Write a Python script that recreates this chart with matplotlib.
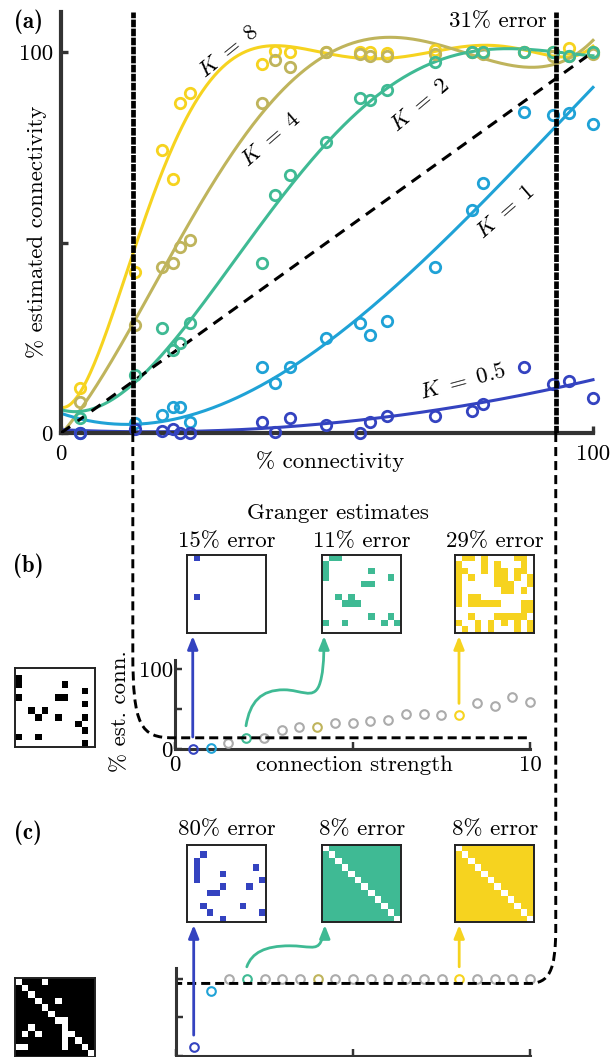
import numpy as np
import matplotlib
matplotlib.use("Agg")
import matplotlib.pyplot as plt
from matplotlib.colors import ListedColormap
from matplotlib.patches import FancyArrowPatch, PathPatch
from matplotlib.path import Path

W, H = 611, 1057

plt.rcParams["font.family"] = "cmr10"
plt.rcParams["mathtext.fontset"] = "cm"
plt.rcParams["axes.unicode_minus"] = False
plt.rcParams["axes.formatter.use_mathtext"] = True
plt.rcParams["lines.scale_dashes"] = False

DARKBLUE = "#3443c0"
LIGHTBLUE = "#1fa2d6"
GREEN = "#3fba94"
OLIVE = "#bfb45c"
YELLOW = "#f6d31f"
GRAY = "#ababab"
AXCOL = "#333333"
FS = 16.5

# ---- panel (a): % connectivity vs % estimated connectivity ----
conn = [3.6, 13.9, 18.9, 21.1, 22.4, 24.2, 37.7, 40.2, 43.0, 49.9,
        56.2, 58.1, 61.3, 70.3, 77.2, 79.4, 87.0, 92.5, 95.5, 100.0]
est_k8 = [11.7, 42.3, 74.3, 66.6, 86.5, 89.2, 96.9, 100.3, 100.0, 100.0,
          100.0, 100.0, 99.7, 100.5, 100.0, 100.0, 100.0, 100.0, 101.0, 100.0]
est_k4 = [8.2, 28.3, 43.6, 44.5, 48.9, 50.6, 86.5, 98.0, 96.1, 100.0,
          99.5, 99.0, 99.0, 99.5, 100.0, 99.5, 100.0, 99.0, 99.0, 99.5]
est_k2 = [4.0, 15.2, 27.5, 21.8, 23.5, 29.0, 44.7, 62.5, 67.7, 76.5,
          87.8, 87.4, 90.0, 97.5, 100.0, 100.0, 100.0, 100.0, 99.0, 100.0]
est_k1 = [0.0, 2.5, 4.7, 6.9, 6.9, 3.0, 17.4, 13.0, 17.4, 24.9,
          28.8, 25.7, 29.5, 43.6, 58.5, 65.7, 84.3, 83.5, 84.1, 81.1]
est_k05 = [0.0, 1.0, 0.5, 1.0, 0.0, 0.0, 3.0, 0.3, 3.9, 2.1,
           0.0, 3.0, 4.5, 4.5, 5.9, 7.6, 17.4, 12.9, 13.7, 9.1]
k_values = [8, 4, 2, 1, 0.5]
k_names = ["8", "4", "2", "1", "0.5"]
k_colors = [YELLOW, OLIVE, GREEN, LIGHTBLUE, DARKBLUE]
fit_degree = [6, 4, 4, 3, 2]
cut_low, cut_high = 13.5, 93.0
cut_error = "31% error"

# ---- panels (b), (c): estimate vs connection strength ----
strength = [0.5, 1.0, 1.5, 2.0, 2.5, 3.0, 3.5, 4.0, 4.5, 5.0,
            5.5, 6.0, 6.5, 7.0, 7.5, 8.0, 8.5, 9.0, 9.5, 10.0]
est_b = [0, 0.8, 7, 14, 14, 24, 27, 27, 33, 32,
         35, 36, 44, 44, 42, 42, 57, 54, 65, 59]
est_c = [11.5, 84, 100, 100, 100, 100, 100, 100, 100, 100,
         100, 100, 100, 100, 100, 100, 100, 100, 100, 100]
threshold_b = 14
threshold_c = 94

errors_b = ["15% error", "11% error", "29% error"]
errors_c = ["80% error", "8% error", "8% error"]
picked = [0.5, 2, 8]

true_b = ["000000000000", "100000000000", "100000010000", "000000000010",
          "100000110000", "000000000010", "001010000000", "000100100010",
          "000000000100", "000000000010", "100100000000", "000000000010"]
est_b_blue = ["010000000000", "000000000000", "000000000000", "000000000000",
              "000000000000", "000000000000", "010000000000", "000000000000",
              "000000000000", "000000000000", "000000000000", "000000000000"]
est_b_green = ["011000000000", "100000000000", "100000010000", "100000000010",
               "000000110000", "000000000000", "001010000000", "000111000000",
               "000000000000", "000000010010", "100100000101", "000000000000"]
est_b_yellow = ["011010000110", "100010100010", "110010110110", "101000110101",
                "100000111001", "100000011010", "101100000000", "101111100011",
                "000000000011", "001000111110", "100101010101", "010101000101"]

true_c = ["011101111111", "101111111111", "110111111111", "111011011111",
          "111101111111", "111110111111", "111111001111", "110111101111",
          "101011100111", "111111101011", "001111101101", "111111111110"]
est_c_blue = ["000000000000", "001000000000", "010000000000", "010000000010",
              "010001000000", "010000000001", "000001000100", "000110000000",
              "000000000000", "001000001000", "000100000001", "000001000000"]
est_c_full = ["011111111111", "101111111111", "110111111111", "111011111111",
              "111101111111", "111110111111", "111111011111", "111111101111",
              "111111110111", "111111111011", "111111111101", "111111111110"]


def box(x0, y0, x1, y1):
    return [x0 / W, 1 - y1 / H, (x1 - x0) / W, (y1 - y0) / H]


def fpt(x, y):
    return (x / W, 1 - y / H)


def data_px(ax, x, y):
    dx, dy = ax.transData.transform((x, y))
    return dx, H - dy


def style_axes(ax, lw):
    ax.patch.set_alpha(0)
    for s in ["top", "right"]:
        ax.spines[s].set_visible(False)
    for s in ["left", "bottom"]:
        ax.spines[s].set_linewidth(lw)
        ax.spines[s].set_color(AXCOL)
    ax.tick_params(direction="in", length=5, width=lw * 0.8, color=AXCOL,
                   labelsize=FS)


def matrix(rect, rows, color, bg="white"):
    ax = fig.add_axes(rect)
    arr = np.array([[int(c) for c in r] for r in rows])
    ax.imshow(arr, cmap=ListedColormap([bg, color]), vmin=0, vmax=1,
              interpolation="nearest", aspect="auto")
    ax.set_xticks([])
    ax.set_yticks([])
    for s in ax.spines.values():
        s.set_linewidth(1.4)
        s.set_color("#222222")
    return ax


fig = plt.figure(figsize=(W / 100, H / 100), dpi=100)

# ---------------- panel (a) ----------------
ax_a = fig.add_axes(box(61, 12, 593, 433))
style_axes(ax_a, 3.0)
ax_a.set_xlim(0, 100)
ax_a.set_ylim(0, 110.5)
ax_a.set_xticks([0, 100])
ax_a.set_xticklabels(["0", "100"])
ax_a.set_yticks([0, 50, 100])
ax_a.set_yticklabels(["0", "", "100"])
ax_a.tick_params(axis="y", pad=6)
ax_a.tick_params(axis="x", pad=8)

ax_a.plot([0, 100], [0, 100], color="black", lw=2.2, dashes=(8, 5.5), zorder=3)

series = [est_k8, est_k4, est_k2, est_k1, est_k05]
xs = np.linspace(0, 100, 400)
for est, col, deg in zip(series, k_colors, fit_degree):
    coef = np.polyfit(conn, est, deg)
    ys = np.polyval(coef, xs)
    m = ys >= -0.3
    ax_a.plot(xs[m], ys[m], color=col, lw=2.2, zorder=2, clip_on=False)
for est, col in zip(series, k_colors):
    ax_a.plot(conn, est, "o", mfc="none", mec=col, ms=7.5, mew=2.0,
              zorder=4, clip_on=False)

label_pos = [(31.5, 100.0, 39), (39.5, 77.0, 41), (67.5, 86.0, 40),
             (83.5, 58.0, 41), (75.5, 13.5, 15)]
for name, (lx, ly, rot) in zip(k_names, label_pos):
    ax_a.text(lx, ly, r"$K\ =\ %s$" % name, fontsize=FS, rotation=rot,
              ha="center", va="center", rotation_mode="anchor", zorder=6)

ax_a.axvline(cut_low, color="black", lw=3.4, dashes=(5.5, 1.0), zorder=5)
ax_a.axvline(cut_high, color="black", lw=3.4, dashes=(5.5, 1.0), zorder=5)
ax_a.text(91.2, 108.0, cut_error, fontsize=FS, ha="right", va="center")

fig.text(*fpt(37, 232), "% estimated connectivity", rotation=90,
         fontsize=FS, ha="center", va="center")
fig.text(*fpt(330, 462), "% connectivity", fontsize=FS, ha="center", va="center")

# ---------------- panel (b) ----------------
ax_b = fig.add_axes(box(175, 660, 530, 749))
style_axes(ax_b, 2.2)
ax_b.set_xlim(0, 10)
ax_b.set_ylim(0, 111.25)
ax_b.set_xticks([0, 5, 10])
ax_b.set_xticklabels(["0", "", "10"])
ax_b.set_yticks([0, 50, 100])
ax_b.set_yticklabels(["0", "", "100"])
ax_b.tick_params(axis="y", pad=1.5)
ax_b.tick_params(axis="x", pad=5)

# ---------------- panel (c) ----------------
ax_c = fig.add_axes(box(176, 968, 530, 1056))
style_axes(ax_c, 2.2)
ax_c.set_xlim(0, 10)
ax_c.set_ylim(0, 114)
ax_c.set_xticks([0, 5, 10])
ax_c.set_yticks([0, 50, 100])
ax_c.tick_params(labelleft=False, labelbottom=False)

hl = dict(zip(k_values, k_colors))
for ax, est in [(ax_b, est_b), (ax_c, est_c)]:
    for s, v in zip(strength, est):
        ax.plot(s, v, "o", mfc="none", mec=hl.get(s, GRAY), ms=6.2, mew=1.5,
                zorder=4, clip_on=False)

fig.text(*fpt(354, 765), "connection strength", fontsize=FS, ha="center", va="center")
fig.text(*fpt(120, 711), "% est. conn.", rotation=90, fontsize=FS,
         ha="center", va="center")

# ---------------- matrices ----------------
cols_x = [187, 322, 455]
mat_b = [est_b_blue, est_b_green, est_b_yellow]
mat_c = [est_c_blue, est_c_full, est_c_full]
pick_colors = [DARKBLUE, GREEN, YELLOW]
for i, x0 in enumerate(cols_x):
    matrix(box(x0, 555, x0 + 79, 633), mat_b[i], pick_colors[i])
    matrix(box(x0, 845, x0 + 79, 922), mat_c[i], pick_colors[i])
    fig.text(*fpt(x0 + 40, 541), errors_b[i], fontsize=FS, ha="center", va="center")
    fig.text(*fpt(x0 + 40, 829), errors_c[i], fontsize=FS, ha="center", va="center")
matrix(box(15, 668, 95, 747), true_b, "black")
matrix(box(15, 978, 95, 1057), true_c, "black")
fig.text(*fpt(338, 513), "Granger estimates", fontsize=FS, ha="center", va="center")

for lab, y in [("(a)", 22), ("(b)", 566), ("(c)", 833)]:
    fig.text(*fpt(28, y), lab, family="cmb10", fontsize=FS, ha="center", va="center")

# ---------------- dashed connectors ----------------
dash = (0, (6.5, 3.6))
codes = [Path.MOVETO, Path.LINETO, Path.CURVE4, Path.CURVE4, Path.CURVE4, Path.LINETO]
x0, y0 = data_px(ax_a, cut_low, 0)
_, yh = data_px(ax_b, 0, threshold_b)
xe, _ = data_px(ax_b, 9.95, threshold_b)
verts = [(x0, y0), (x0, yh - 85), (x0, yh - 12), (x0 + 8, yh), (x0 + 40, yh), (xe, yh)]
fig.add_artist(PathPatch(Path([fpt(*v) for v in verts], codes), fill=False,
                         lw=2.1, ls=dash, ec="black", transform=fig.transFigure))

x1, y1 = data_px(ax_a, cut_high, 0)
_, yc = data_px(ax_c, 0, threshold_c)
xs_, _ = data_px(ax_c, 0.05, threshold_c)
verts = [(x1, y1), (x1, yc - 55), (x1, yc - 12), (x1 - 7, yc), (x1 - 27, yc), (xs_, yc)]
fig.add_artist(PathPatch(Path([fpt(*v) for v in verts], codes), fill=False,
                         lw=2.1, ls=dash, ec="black", transform=fig.transFigure))

# ---------------- arrows ----------------
astyle = "-|>,head_length=0.55,head_width=0.22"
green_b = [(4, -24), (15, -36), (38, -36), (55, -36), (67, -26), (73, -40),
           (77, -50), (78, -66), (78, None)]
green_c = [(5, -14), (18, -21), (43, -21), (61, -21), (70, -16), (74, -25),
           (77, -31), (78, -36), (78, None)]
for ax, est, top, gcurve in [(ax_b, est_b, 636, green_b), (ax_c, est_c, 925, green_c)]:
    for s, col in zip(picked, pick_colors):
        px, py = data_px(ax, s, est[strength.index(s)])
        sy = py - 12
        if col == GREEN:
            pts = [(px, sy)] + [(px + dx, top if dy is None else sy + dy)
                                for dx, dy in gcurve]
            cds = [Path.MOVETO] + [Path.CURVE4] * 9
            path = Path([fpt(*p) for p in pts], cds)
            arr = FancyArrowPatch(path=path, arrowstyle=astyle, mutation_scale=14,
                                  lw=2.0, color=col, transform=fig.transFigure)
        else:
            arr = FancyArrowPatch(fpt(px, sy), fpt(px, top), arrowstyle=astyle,
                                  mutation_scale=14, lw=2.0, color=col,
                                  shrinkA=0, shrinkB=0, transform=fig.transFigure)
        fig.add_artist(arr)

fig.savefig("out.png", dpi=100)
